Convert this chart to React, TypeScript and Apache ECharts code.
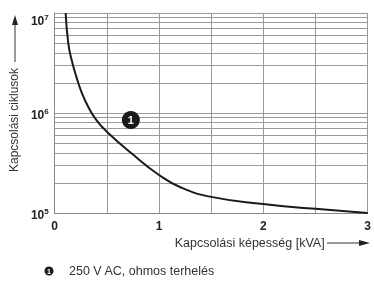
import React, { useEffect, useRef } from "react";
import * as echarts from "echarts";

const loadKVA = [0.105, 0.13, 0.162, 0.21, 0.257, 0.32, 0.4, 0.5, 0.73, 1.0, 1.21, 1.5, 2.0, 2.5, 3.0];
const cycles = [1e7, 5e6, 3.4e6, 2.26e6, 1.62e6, 1.16e6, 8.5e5, 6.5e5, 4e5, 2.4e5, 1.8e5, 1.45e5, 1.23e5, 1.1e5, 1e5];
const minorGridValues = [2e5, 3e5, 4e5, 5e5, 6e5, 7e5, 8e5, 9e5, 2e6, 3e6, 4e6, 5e6, 6e6, 7e6, 8e6, 9e6];
const markerPoint = [0.73, 8.5e5];
const markerLabel = "1";
const xName = "Kapcsolási képesség [kVA]";
const yName = "Kapcsolási ciklusok";
const legendText = "250 V AC, ohmos terhelés";

export default function App() {
  const ref = useRef<HTMLDivElement>(null);
  useEffect(() => {
    if (!ref.current) return;
    const chart = echarts.init(ref.current, null, { renderer: "svg" });
    const gridColor = "#9a9a9a";
    const base = { fontSize: 12, fontWeight: "bold", color: "#222", fontFamily: "Liberation Sans", lineHeight: 16 };
    const small = { fontSize: 8, fontWeight: "bold", color: "#222", fontFamily: "Liberation Sans", verticalAlign: "top", lineHeight: 16 };
    chart.setOption({
      animation: false,
      grid: { left: 53, right: 6, top: 13, bottom: 69 },
      xAxis: {
        type: "value",
        min: 0,
        max: 3,
        interval: 0.5,
        axisLine: { show: true, lineStyle: { color: "#888", width: 1 } },
        axisTick: { show: false },
        splitLine: { show: true, lineStyle: { color: gridColor, width: 1 } },
        axisLabel: {
          formatter: (v: number) => (Math.abs(v - Math.round(v)) < 1e-9 ? String(Math.round(v)) : ""),
          fontSize: 12,
          fontWeight: "bold",
          color: "#222",
          fontFamily: "Liberation Sans",
          margin: 7,
        },
        name: xName,
        nameLocation: "middle",
        nameGap: 23,
        nameTextStyle: { fontSize: 12.5, color: "#333", fontFamily: "Liberation Sans", padding: [0, 0, 0, 77] },
      },
      yAxis: {
        type: "log",
        logBase: 10,
        min: 1e5,
        max: 1e7,
        axisLine: { show: true, lineStyle: { color: "#888", width: 1 } },
        axisTick: { show: false },
        splitLine: { show: true, lineStyle: { color: gridColor, width: 1 } },
        axisLabel: {
          margin: 6,
          formatter: (v: number) => {
            const e = Math.round(Math.log10(v));
            if (e === 7) return `{g16|}\n{b|10}{s|${e}}`;
            return `{g4|}\n{b|10}{s|${e}}`;
          },
          rich: {
            b: base,
            s: small,
            g16: { lineHeight: 16, fontSize: 1 },
            g4: { lineHeight: 4, fontSize: 1 },
          },
        },
        name: yName,
        nameLocation: "middle",
        nameGap: 32,
        nameTextStyle: { fontSize: 12, color: "#333", fontFamily: "Liberation Sans", padding: [0, 14, 0, 0] },
      },
      series: [
        {
          type: "line",
          data: loadKVA.map((x, i) => [x, cycles[i]]),
          smooth: true,
          symbol: "none",
          lineStyle: { color: "#1a1a1a", width: 2 },
          markLine: {
            silent: true,
            symbol: "none",
            label: { show: false },
            lineStyle: { color: gridColor, width: 1, type: "solid" },
            data: minorGridValues.map((v) => ({ yAxis: v })),
          },
          markPoint: {
            symbol: "circle",
            symbolSize: 18,
            itemStyle: { color: "#1a1a1a" },
            label: { show: true, formatter: markerLabel, color: "#fff", fontSize: 11, fontWeight: "bold", fontFamily: "Liberation Sans" },
            data: [{ coord: markerPoint }],
          },
          z: 5,
        },
      ],
      graphic: [
        { type: "line", shape: { x1: 15, y1: 62, x2: 15, y2: 24 }, style: { stroke: "#333", lineWidth: 1 } },
        { type: "polygon", shape: { points: [[15, 15], [12, 25], [18, 25]] }, style: { fill: "#222" } },
        { type: "line", shape: { x1: 327, y1: 243, x2: 360, y2: 243 }, style: { stroke: "#333", lineWidth: 1 } },
        { type: "polygon", shape: { points: [[370, 243], [359, 240], [359, 246]] }, style: { fill: "#222" } },
        { type: "circle", shape: { cx: 49, cy: 271, r: 4.5 }, style: { fill: "#1a1a1a" } },
        {
          type: "text",
          x: 49,
          y: 271,
          style: { text: markerLabel, fill: "#fff", fontSize: 7, fontWeight: "bold", fontFamily: "Liberation Sans", align: "center", verticalAlign: "middle" },
        },
        {
          type: "text",
          x: 69,
          y: 271,
          style: { text: legendText, fill: "#333", fontSize: 12.5, fontFamily: "Liberation Sans", align: "left", verticalAlign: "middle" },
        },
      ],
    });
    return () => chart.dispose();
  }, []);
  return <div ref={ref} style={{ position: "fixed", left: 0, top: 0, width: 374, height: 282 }} />;
}
